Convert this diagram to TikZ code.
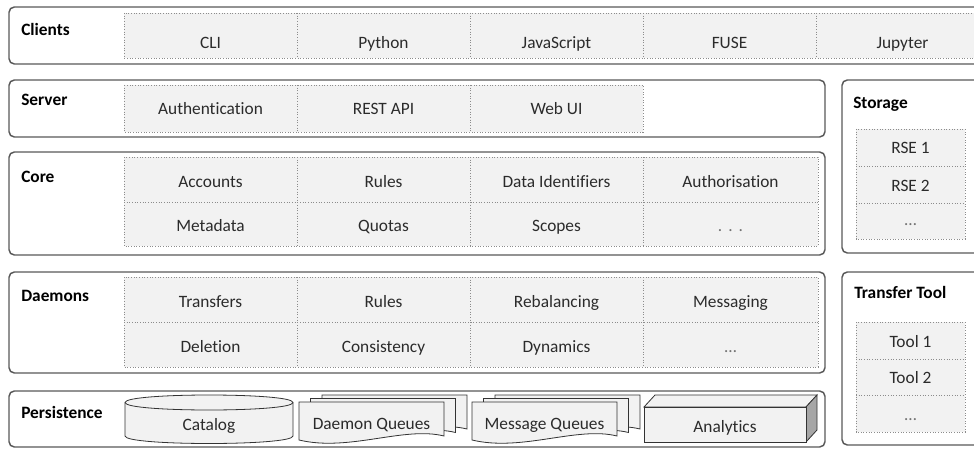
\documentclass[tikz,border=0pt]{standalone}
\usepackage{fontspec}
\setmainfont{Carlito}[Ligatures={NoCommon}]

\definecolor{edge}{HTML}{595959}
\definecolor{cellfill}{HTML}{F2F2F2}
\definecolor{celledge}{HTML}{8C8C8C}
\definecolor{ink}{HTML}{2B2B2B}
\definecolor{sideface}{HTML}{A6A6A6}

\tikzset{
  layer/.style={draw=edge, line width=1.1pt, rounded corners=4pt, fill=white},
  cellgrid/.style={draw=celledge, line width=0.6pt, dash pattern=on 0.7pt off 1.3pt, fill=cellfill},
  celldiv/.style={draw=celledge, line width=0.6pt, dash pattern=on 0.7pt off 1.3pt},
  celltext/.style={anchor=base, text=ink, font=\fontsize{13}{15}\selectfont, inner sep=0pt},
  dimtext/.style={celltext, text=black!55},
  layertitle/.style={anchor=base west, text=black, font=\bfseries\fontsize{13}{15}\selectfont, inner sep=0pt},
  persist/.style={draw=black!80, line width=0.6pt, fill=cellfill},
  queuedoc/.pic={
    \path[persist] (0,0) -- (145,0) -- (145,34)
      .. controls (105,24) and (50,50) .. (0,38) -- cycle;
  },
}

\begin{document}
\begin{tikzpicture}[x=0.75pt, y=-0.75pt]
\useasboundingbox (0,0) rectangle (974,449);
\clip (0,0) rectangle (974,449);

% ---------------- Clients ----------------
\draw[layer] (9,7) rectangle (995,64);
\node[layertitle] (tclients) at (21,36) {Clients};
\draw[cellgrid] (124,13) rectangle (995,58);
\foreach \cx in {297,470,643,816} \draw[celldiv] (\cx,13) -- (\cx,58);
\node[celltext] (cli) at (210.5,49) {CLI};
\node[celltext] (python) at (383.5,49) {Python};
\node[celltext] (js) at (556.5,49) {JavaScript};
\node[celltext] (fuse) at (729.5,49) {FUSE};
\node[celltext] (jupyter) at (902.5,49) {Jupyter};

% ---------------- Server ----------------
\draw[layer] (9,80) rectangle (825,137);
\node[layertitle] (tserver) at (21,106) {Server};
\draw[cellgrid] (124,85) rectangle (643,132);
\foreach \cx in {297,470} \draw[celldiv] (\cx,85) -- (\cx,132);
\node[celltext] (auth) at (210.5,115) {Authentication};
\node[celltext] (rest) at (383.5,115) {REST API};
\node[celltext] (webui) at (556.5,115) {Web UI};

% ---------------- Core ----------------
\draw[layer] (9,152) rectangle (825,255);
\node[layertitle] (tcore) at (21,182) {Core};
\draw[cellgrid] (124,157) rectangle (818,246);
\draw[celldiv] (124,202) -- (818,202);
\foreach \cx in {297,470,643} \draw[celldiv] (\cx,157) -- (\cx,246);
\node[celltext] (accounts) at (210.5,187) {Accounts};
\node[celltext] (crules) at (383.5,187) {Rules};
\node[celltext] (dids) at (556.5,187) {Data Identifiers};
\node[celltext] (authz) at (730.5,187) {Authorisation};
\node[celltext] (metadata) at (210.5,231) {Metadata};
\node[celltext] (quotas) at (383.5,231) {Quotas};
\node[celltext] (scopes) at (556.5,231) {Scopes};
\node[dimtext] (cmore) at (730.5,231) {.\hspace{0.35em}.\hspace{0.35em}.};

% ---------------- Daemons ----------------
\draw[layer] (9,272) rectangle (825,373);
\node[layertitle] (tdaemons) at (21,301) {Daemons};
\draw[cellgrid] (124,277) rectangle (818,367);
\draw[celldiv] (124,322) -- (818,322);
\foreach \cx in {297,470,643} \draw[celldiv] (\cx,277) -- (\cx,367);
\node[celltext] (transfers) at (210.5,307) {Transfers};
\node[celltext] (drules) at (383.5,307) {Rules};
\node[celltext] (rebal) at (556.5,307) {Rebalancing};
\node[celltext] (messaging) at (730.5,307) {Messaging};
\node[celltext] (deletion) at (210.5,352) {Deletion};
\node[celltext] (consistency) at (383.5,352) {Consistency};
\node[celltext] (dynamics) at (556.5,352) {Dynamics};
\node[dimtext] (dmore) at (730.5,352) {…};

% ---------------- Persistence ----------------
\draw[layer] (9,391) rectangle (825,447);
\node[layertitle] (tpersist) at (21,418) {Persistence};

% catalog cylinder
\draw[persist] (125,402.5) -- (125,436)
  .. controls (125,446) and (293,446) .. (293,436)
  -- (293,402.5)
  .. controls (293,392.5) and (125,392.5) .. (125,402.5) -- cycle;
\draw[persist, fill=none] (125,402.5) .. controls (125,412.5) and (293,412.5) .. (293,402.5);
\node[celltext] (catalog) at (209,430) {Catalog};

% daemon queues (stacked documents)
\pic at (322,395) {queuedoc};
\pic at (310.5,398.5) {queuedoc};
\pic at (299,402) {queuedoc};
\node[celltext] (dqueues) at (371.5,429) {Daemon Queues};

% message queues (stacked documents)
\pic at (495,395) {queuedoc};
\pic at (483.5,398.5) {queuedoc};
\pic at (472,402) {queuedoc};
\node[celltext] (mqueues) at (544.5,429) {Message Queues};

% analytics block
\draw[persist] (644,407) -- (655,395) -- (817,395) -- (806,407) -- cycle;
\draw[persist, fill=sideface] (806,407) -- (817,395) -- (817,430) -- (806,442) -- cycle;
\draw[persist] (644,407) rectangle (806,442);
\node[celltext] (analytics) at (725,432) {Analytics};

% ---------------- Storage ----------------
\draw[layer] (842,80) rectangle (995,253);
\node[layertitle] (tstorage) at (853,109) {Storage};
\draw[cellgrid] (856,129) rectangle (965,239);
\draw[celldiv] (856,166) -- (965,166);
\draw[celldiv] (856,203) -- (965,203);
\node[celltext] (rse1) at (910.5,154) {RSE 1};
\node[celltext] (rse2) at (910.5,191) {RSE 2};
\node[dimtext] (rsemore) at (910.5,225) {…};

% ---------------- Transfer Tool ----------------
\draw[layer] (842,272) rectangle (995,445);
\node[layertitle] (ttool) at (854,298) {Transfer Tool};
\draw[cellgrid] (856,322) rectangle (965,432);
\draw[celldiv] (856,359) -- (965,359);
\draw[celldiv] (856,395) -- (965,395);
\node[celltext] (tool1) at (910.5,347) {Tool 1};
\node[celltext] (tool2) at (910.5,383) {Tool 2};
\node[dimtext] (toolmore) at (910.5,420) {…};
\end{tikzpicture}
\end{document}
